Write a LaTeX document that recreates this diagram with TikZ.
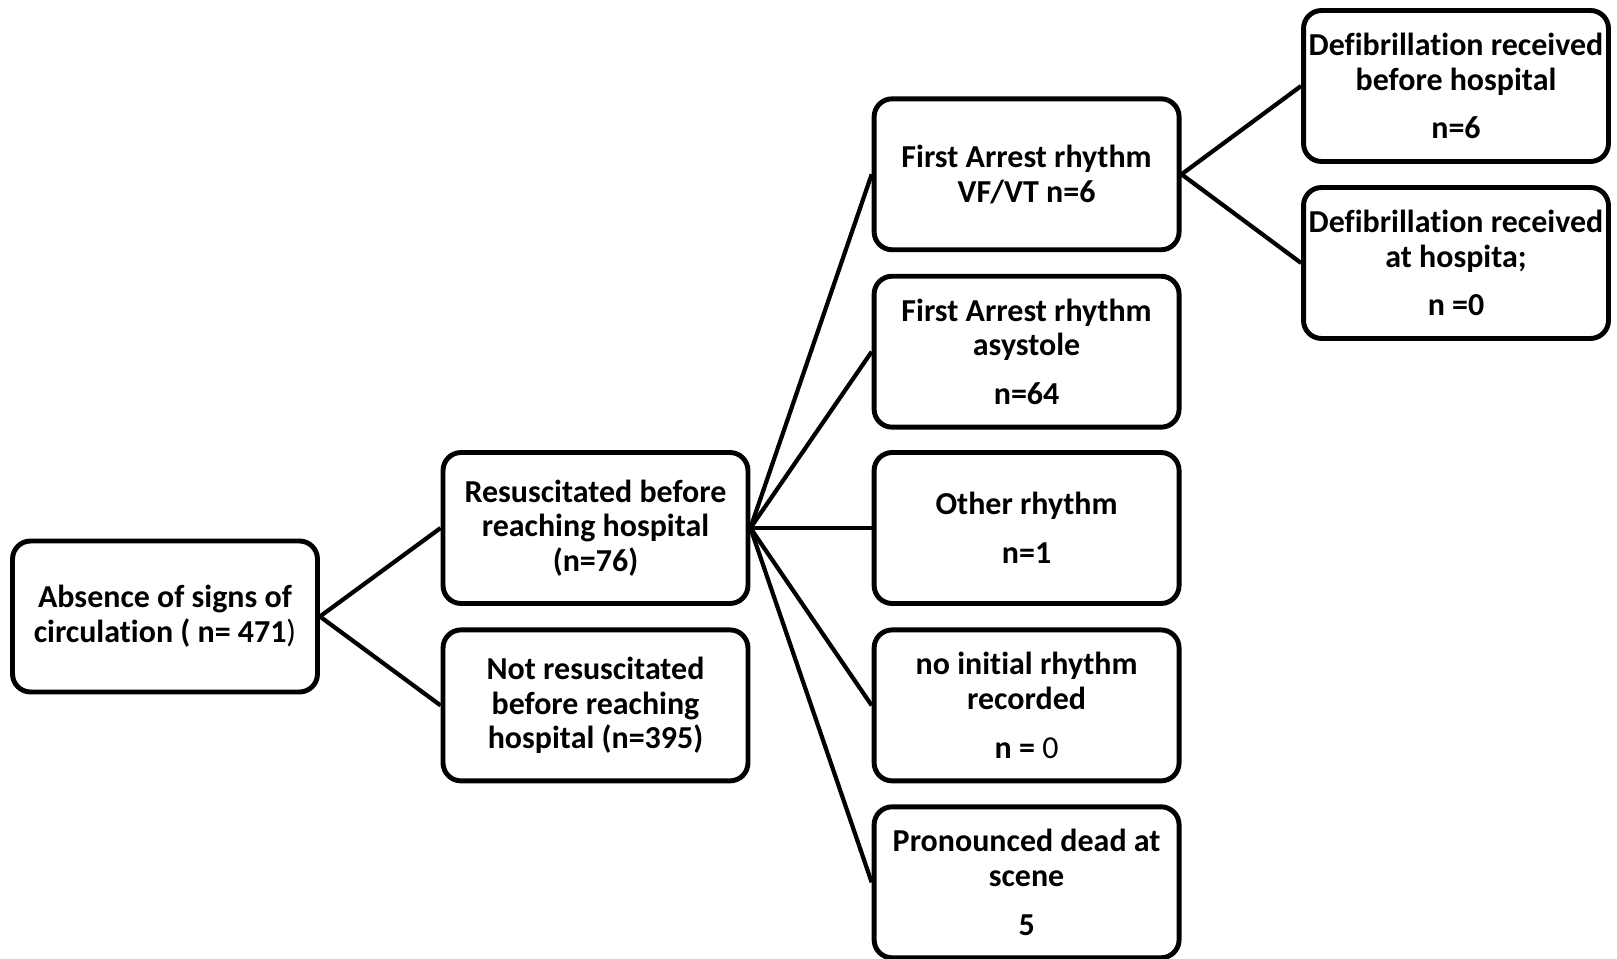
\documentclass[tikz,border=0pt]{standalone}
\usepackage{fontspec}
\setmainfont{Carlito}[Ligatures={NoCommon,NoContextual}]
\begin{document}
\begin{tikzpicture}[x=0.02cm,y=-0.02cm,
    box/.style={draw,line width=2.8pt,rounded corners=0.36cm,
      minimum width=6.1cm,minimum height=3.02cm,inner sep=1pt,
      align=center,font=\fontsize{18.2}{19.7}\selectfont\bfseries},
    link/.style={line width=2.4pt}]
    \useasboundingbox (0,0) rectangle (1617,959);
    % first two levels
    \node(absent) at (165,616.5) [box] {Absence of signs of\\circulation ( n= 471{\mdseries )}};
    \node(resus) at (595.5,528) [box] {Resuscitated before\\reaching hospital\\(n=76)};
    \node(noresus) at (595.5,705.4) [box] {Not resuscitated\\before reaching\\hospital (n=395)};
    % rhythms
    \node(vfvt) at (1026.6,174.3) [box] {First Arrest rhythm\\VF/VT n=6};
    \node(asys) at (1026.6,351.7) [box] {First Arrest rhythm\\asystole\\[8pt]n=64};
    \node(other) at (1026.6,528) [box] {Other rhythm\\[8pt]n=1};
    \node(norec) at (1026.6,705.4) [box] {no initial rhythm\\recorded\\[8pt]n = {\mdseries 0}};
    \node(dead) at (1026.6,882.3) [box] {Pronounced dead at\\scene\\[8pt]5};
    % defibrillation
    \node(defpre) at (1456,86) [box] {Defibrillation received\\before hospital\\[8pt]n=6};
    \node(defhosp) at (1456,263) [box] {Defibrillation received\\at hospita;\\[8pt]n =0};
    \draw[link] (absent.east) -- (resus.west);
    \draw[link] (absent.east) -- (noresus.west);
    \foreach \dest in {vfvt,asys,other,norec,dead}
      \draw[link] (resus.east) -- (\dest.west);
    \draw[link] (vfvt.east) -- (defpre.west);
    \draw[link] (vfvt.east) -- (defhosp.west);
\end{tikzpicture}
\end{document}
